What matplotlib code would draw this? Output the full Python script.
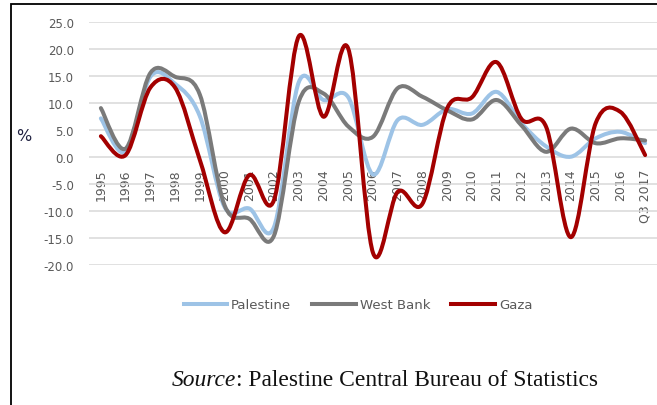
import matplotlib
matplotlib.use("Agg")
import matplotlib.pyplot as plt
from matplotlib.path import Path
from matplotlib.patches import PathPatch, Rectangle
from matplotlib.lines import Line2D

# ---------------- data ----------------
years = ['1995', '1996', '1997', '1998', '1999', '2000', '2001', '2002', '2003',
         '2004', '2005', '2006', '2007', '2008', '2009', '2010', '2011', '2012',
         '2013', '2014', '2015', '2016', 'Q3 2017']
palestine = [7.1, 0.9, 14.8, 13.5, 7.5, -9.3, -9.6, -13.0, 13.8, 10.5, 11.0, -3.3,
             6.8, 5.9, 8.8, 8.0, 12.0, 6.2, 1.9, 0.0, 3.4, 4.6, 2.5]
west_bank = [9.0, 1.5, 15.5, 14.8, 11.5, -9.0, -11.5, -14.6, 10.2, 11.7, 5.6, 3.7,
             12.7, 11.1, 8.6, 6.9, 10.5, 5.8, 0.9, 5.2, 2.5, 3.4, 3.0]
gaza = [3.8, 0.3, 12.8, 12.8, -0.6, -14.0, -3.4, -8.0, 22.3, 7.4, 20.0, -17.8,
        -6.5, -8.7, 9.0, 11.0, 17.5, 7.0, 5.5, -14.9, 6.2, 8.3, 0.3]
yticks = [25, 20, 15, 10, 5, 0, -5, -10, -15, -20]

series = [("Palestine", palestine, "#9DC3E6"),
          ("West Bank", west_bank, "#7A7A7A"),
          ("Gaza", gaza, "#A30000")]


def smooth_path(xs, ys):
    """Excel-like smoothed line: cubic Bezier through every point."""
    n = len(xs)
    verts = [(xs[0], ys[0])]
    codes = [Path.MOVETO]
    for i in range(n - 1):
        i0 = max(i - 1, 0)
        i3 = min(i + 2, n - 1)
        c1 = (xs[i] + (xs[i + 1] - xs[i0]) / 6.0, ys[i] + (ys[i + 1] - ys[i0]) / 6.0)
        c2 = (xs[i + 1] - (xs[i3] - xs[i]) / 6.0, ys[i + 1] - (ys[i3] - ys[i]) / 6.0)
        verts += [c1, c2, (xs[i + 1], ys[i + 1])]
        codes += [Path.CURVE4, Path.CURVE4, Path.CURVE4]
    return Path(verts, codes)


W, H = 657, 406
fig = plt.figure(figsize=(W / 100, H / 100), dpi=100)

# outer frame (right and bottom edges fall outside the picture)
fig.patches.append(Rectangle((11 / W, -0.1), (660 - 11) / W, 1.1 - 5 / H,
                             transform=fig.transFigure, fill=False,
                             edgecolor="black", linewidth=1.3))

left, right = 88.5, 657.5
top, bottom = 22.7, 265.7
ax = fig.add_axes([left / W, 1 - bottom / H, (right - left) / W, (bottom - top) / H])
ax.set_xlim(-0.5, len(years) - 0.5)
ax.set_ylim(-20, 25)

for s in ["top", "right", "left"]:
    ax.spines[s].set_visible(False)
ax.spines["bottom"].set_position(("data", 0))
ax.spines["bottom"].set_visible(False)

ax.set_yticks(yticks)
ax.set_yticklabels([f"{v:.1f}" for v in yticks])
ax.yaxis.grid(True, color="#D9D9D9", linewidth=1.1)
ax.set_axisbelow(True)
ax.tick_params(axis="y", length=0, pad=10.5, labelsize=8.5, labelcolor="#595959")

ax.set_xticks(range(len(years)))
ax.set_xticklabels(years, rotation=90)
ax.tick_params(axis="x", length=0, pad=8.5, labelsize=9, labelcolor="#595959")

xs = list(range(len(years)))
handles = []
for name, vals, col in series:
    p = smooth_path(xs, vals)
    ax.add_patch(PathPatch(p, facecolor="none", edgecolor=col, linewidth=2.9,
                           capstyle="round", joinstyle="round"))
    handles.append(Line2D([], [], color=col, linewidth=2.9, label=name))

# "%" label
fig.text(24 / W, 1 - 137 / H, "%", fontsize=11.5, color="#1F2040",
         ha="center", va="center")

fig.legend(handles=handles, loc="center", bbox_to_anchor=(358 / W, 1 - 306 / H),
           ncol=3, frameon=False, fontsize=9.5, labelcolor="#595959",
           handlelength=3.3, handletextpad=0.3, columnspacing=1.6)

t1 = fig.text(172 / W, 1 - 391 / H, "Source", fontsize=16.9, style="italic",
              family="Liberation Serif", color="#111111", ha="left", va="bottom")
ax.annotate(": Palestine Central Bureau of Statistics", xy=(1, 0), xycoords=t1,
            fontsize=16.9, family="Liberation Serif", color="#111111",
            ha="left", va="bottom", annotation_clip=False)

fig.savefig("out.png", dpi=100)
